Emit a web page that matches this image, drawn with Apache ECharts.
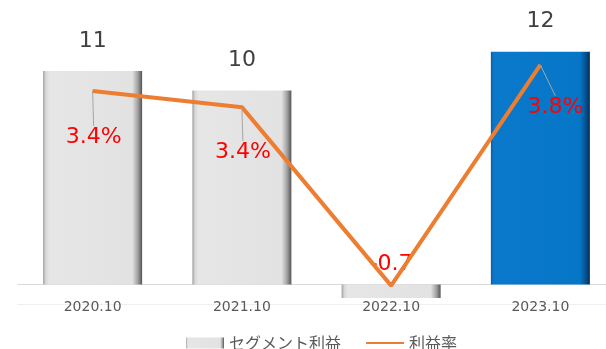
<!DOCTYPE html>
<html lang="ja">
<head>
<meta charset="UTF-8">
<title>セグメント利益</title>
<script src="https://cdn.jsdelivr.net/npm/echarts@6/dist/echarts.min.js"></script>
<style>
    html, body { margin: 0; padding: 0; background: #fff; overflow: hidden; }
    /* plot area runs past the right edge in the original, so the canvas is a bit wider than the window */
    #chart { width: 615px; height: 349px; }
</style>
</head>
<body>
<div id="chart"></div>
<script>
// Data
const categories = ['2020.10', '2021.10', '2022.10', '2023.10'];
const profitValues = [11, 10, -0.7, 12];
const rateValues = [3.35, 3.07, -0.02, 3.8];   // line position on the hidden right axis
const rateLabels = ['3.4%', '3.4%', '', '3.8%'];
const seriesNames = ['セグメント利益', '利益率'];

document.addEventListener('DOMContentLoaded', function() {
    const chart = echarts.init(document.getElementById('chart'), null, { renderer: 'canvas' });
    const font = 'DejaVu Sans';

    // where each rate label sits relative to its point
    const rateLabelShift = [[1, 46], [1, 45], [0, 0], [15, 42]];

    const grayFill = new echarts.graphic.LinearGradient(0, 0, 1, 0, [
        { offset: 0, color: '#9c9c9c' },
        { offset: 0.025, color: '#d6d6d6' },
        { offset: 0.06, color: '#e6e6e6' },
        { offset: 0.9, color: '#e2e2e2' },
        { offset: 0.955, color: '#a3a3a3' },
        { offset: 1, color: '#555555' }
    ]);
    const blueFill = new echarts.graphic.LinearGradient(0, 0, 1, 0, [
        { offset: 0, color: '#0a5da6' },
        { offset: 0.03, color: '#0a79cc' },
        { offset: 0.9, color: '#0676c7' },
        { offset: 0.96, color: '#05508f' },
        { offset: 1, color: '#032f57' }
    ]);

    const barData = profitValues.map(function(v, i) {
        const item = { value: v };
        if (i === profitValues.length - 1) {
            item.itemStyle = { color: blueFill };
        }
        if (v < 0) {
            item.label = { color: '#ff0000', distance: 9 };
        }
        return item;
    });

    const lineData = rateValues.map(function(v, i) {
        if (!rateLabels[i]) {
            return { value: v, label: { show: false }, labelLine: { show: false } };
        }
        return v;
    });

    const option = {
        animation: false,
        grid: { left: 18, right: 0, top: 51.7, height: 252.2 },
        legend: {
            left: 181,
            top: 330,
            itemWidth: 38,
            itemHeight: 11,
            itemGap: 24,
            textStyle: { fontFamily: 'Noto Sans CJK JP', fontSize: 16, color: '#595959' },
            data: [
                { name: seriesNames[0], icon: 'rect' },
                { name: seriesNames[1], itemStyle: { opacity: 0 } }
            ]
        },
        xAxis: [
            {
                // bottom edge of the plot, carries the year labels
                type: 'category',
                data: categories,
                position: 'bottom',
                axisLine: { onZero: false, lineStyle: { color: '#efefef', width: 1 } },
                axisTick: { show: false },
                axisLabel: { margin: -4, fontFamily: font, fontSize: 14, color: '#595959' }
            },
            {
                // zero line
                type: 'category',
                data: categories,
                position: 'bottom',
                axisLine: { onZero: true, lineStyle: { color: '#d9d9d9', width: 1 } },
                axisTick: { show: false },
                axisLabel: { show: false }
            }
        ],
        yAxis: [
            { type: 'value', min: -1, max: 12, show: false, splitLine: { show: false } },
            { type: 'value', min: -0.336, max: 4.03, show: false, splitLine: { show: false } }
        ],
        series: [
            {
                name: seriesNames[0],
                type: 'bar',
                barWidth: 99,
                data: barData,
                itemStyle: { color: grayFill },
                label: {
                    show: true,
                    position: 'top',
                    distance: 19,
                    fontFamily: font,
                    fontSize: 22,
                    color: '#404040'
                },
                z: 2
            },
            {
                name: seriesNames[1],
                type: 'line',
                yAxisIndex: 1,
                data: lineData,
                symbol: 'circle',
                symbolSize: 1,
                itemStyle: { color: '#ed7d31' },
                lineStyle: { color: '#ed7d31', width: 4 },
                label: {
                    show: true,
                    position: 'inside',
                    padding: [17, 0, 0, 0],
                    fontFamily: font,
                    fontSize: 22,
                    color: '#ff0000',
                    formatter: function(p) {
                        return rateLabels[p.dataIndex];
                    }
                },
                labelLayout: function(p) {
                    const s = rateLabelShift[p.dataIndex];
                    return { dx: s[0], dy: s[1] };
                },
                labelLine: { show: true, lineStyle: { color: '#a6a6a6', width: 1 } },
                z: 3
            }
        ]
    };

    chart.setOption(option);
});
</script>
</body>
</html>
